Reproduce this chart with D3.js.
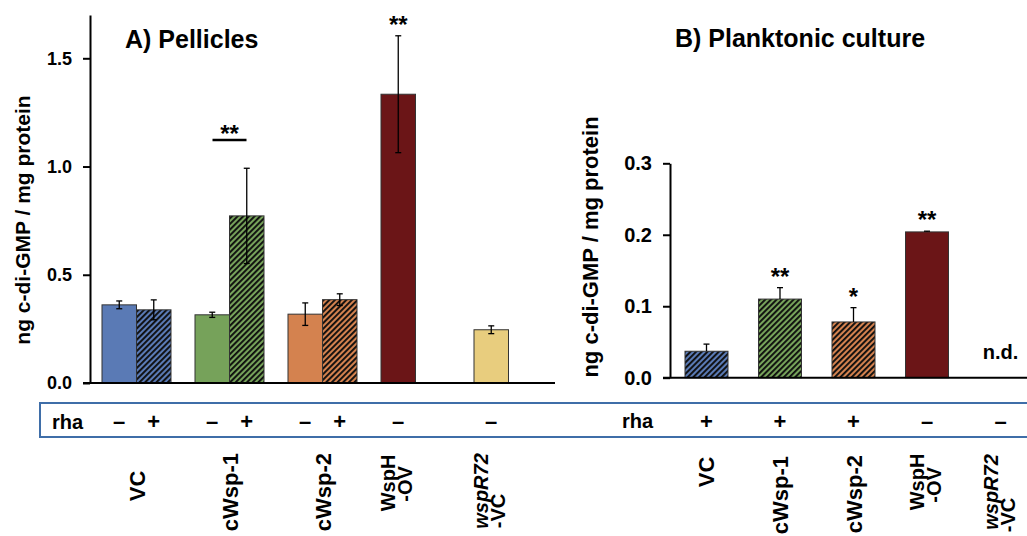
<!DOCTYPE html>
<html>
<head>
<meta charset="utf-8">
<script src="https://cdn.jsdelivr.net/npm/d3@7"></script>
<style>
  body { margin: 0; background: #fff; }
  text { font-family: "Liberation Sans", Arial, sans-serif; font-weight: bold; fill: #000; }
</style>
</head>
<body>
<div id="chart"></div>
<script>
// strains, same order in both panels
var groups = ["VC", "cWsp-1", "cWsp-2", "WspH-OV", "wspR72-VC"];
var groupLines = [["VC"], ["cWsp-1"], ["cWsp-2"], ["WspH", "-OV"], ["wspR72", "-VC"]];
var colors = ["#5a7ab5", "#76a25a", "#d4824f", "#6b1517", "#e8cd7e"];

// A) Pellicles (ng c-di-GMP / mg protein), without and with rhamnose
var pelMinus    = [0.361, 0.315, 0.318, 1.334, 0.246];
var pelMinusErr = [0.018, 0.012, 0.052, 0.270, 0.018];
var pelPlus     = [0.338, 0.772, 0.385, null, null];
var pelPlusErr  = [0.046, 0.220, 0.027, null, null];
var pelStars    = ["", "", "", "**", ""];
var pelBracket  = ["", "**", "", "", ""];
var pelTicks    = [0, 0.5, 1.0, 1.5];

// B) Planktonic culture
var plaValues = [0.037, 0.110, 0.078, 0.204, null];
var plaErr    = [0.010, 0.016, 0.020, 0.001, null];
var plaRha    = ["+", "+", "+", "–", "–"];
var plaStars  = ["", "**", "*", "**", ""];
var plaTicks  = [0, 0.1, 0.2, 0.3];

// y centres of the rotated strain labels (per line)
var labelY = {
  A: [[486], [492], [492], [483, 484], [491, 511]],
  B: [[472], [495], [494], [482, 485], [492, 515]]
};

var svg = d3.select("#chart").append("svg")
    .attr("width", 1027)
    .attr("height", 536);

var defs = svg.append("defs");
colors.forEach(function(c, i) {
  var p = defs.append("pattern")
      .attr("id", "hatch" + i)
      .attr("patternUnits", "userSpaceOnUse")
      .attr("width", 4)
      .attr("height", 4)
      .attr("patternTransform", "rotate(45)");
  p.append("rect").attr("width", 4).attr("height", 4).attr("fill", c);
  p.append("rect").attr("width", 1.9).attr("height", 4).attr("fill", "#0d0d0d");
});

var fmt = d3.format(".1f");

function drawAxis(y, ticks, xPos, fontSize) {
  var ax = svg.append("g")
      .attr("transform", "translate(" + xPos + ",0)")
      .call(d3.axisLeft(y).tickValues(ticks).tickFormat(fmt).tickSize(7).tickSizeOuter(0).tickPadding(11));
  ax.select(".domain").attr("stroke", "#000").attr("stroke-width", 2);
  ax.selectAll(".tick line").attr("stroke", "#000").attr("stroke-width", 2);
  ax.selectAll(".tick text")
      .style("font-size", fontSize + "px")
      .style("font-family", "'Liberation Sans', Arial, sans-serif")
      .style("font-weight", "bold")
      .attr("fill", "#000");
}

function errBar(x, y, v, e, both) {
  var g = svg.append("g").attr("stroke", "#000").attr("stroke-width", 1.3);
  var top = y(v + e), bot = both ? y(v - e) : y(v);
  g.append("line").attr("x1", x).attr("x2", x).attr("y1", top).attr("y2", bot);
  g.append("line").attr("x1", x - 3).attr("x2", x + 3).attr("y1", top).attr("y2", top);
  if (both) g.append("line").attr("x1", x - 3).attr("x2", x + 3).attr("y1", bot).attr("y2", bot);
}

function stars(x, yTop, s) {
  // asterisks sit high in the em box, so shift baseline down
  svg.append("text")
      .attr("x", x)
      .attr("y", yTop - 17 + 0.585 * 24)
      .attr("text-anchor", "middle")
      .style("font-size", "24px")
      .text(s);
}

function strainLabels(centers, ys) {
  groupLines.forEach(function(lines, i) {
    var two = lines.length > 1;
    lines.forEach(function(line, li) {
      var xb = centers[i] + (two ? -3 + li * 17 : 8);
      svg.append("text")
          .attr("transform", "translate(" + xb + "," + ys[i][li] + ") rotate(-90)")
          .attr("text-anchor", "middle")
          .style("font-size", two ? "20px" : "22px")
          .style("font-style", line == "wspR72" ? "italic" : "normal")
          .text(line);
    });
  });
}

// ---------- A) Pellicles ----------
var xA = d3.scaleBand().domain(groups).range([90, 555]).paddingInner(0.258).paddingOuter(0.129);
var xA1 = d3.scaleBand().domain(["–", "+"]).range([0, xA.bandwidth()]);
var yA = d3.scaleLinear().domain([0, 1.7]).range([383, 15]);

var pelBars = [];
groups.forEach(function(g, i) {
  if (pelMinus[i] != null) pelBars.push({g: g, i: i, c: "–", v: pelMinus[i], e: pelMinusErr[i]});
  if (pelPlus[i] != null) pelBars.push({g: g, i: i, c: "+", v: pelPlus[i], e: pelPlusErr[i]});
});

svg.append("g").selectAll("rect")
  .data(pelBars)
  .enter().append("rect")
    .attr("x", function(d) { return xA(d.g) + xA1(d.c); })
    .attr("y", function(d) { return yA(d.v); })
    .attr("width", xA1.bandwidth())
    .attr("height", function(d) { return yA(0) - yA(d.v); })
    .attr("fill", function(d) { return d.c == "+" ? "url(#hatch" + d.i + ")" : colors[d.i]; })
    .attr("stroke", "#333")
    .attr("stroke-width", 1);

pelBars.forEach(function(d) {
  errBar(xA(d.g) + xA1(d.c) + xA1.bandwidth() / 2, yA, d.v, d.e, true);
});

drawAxis(yA, pelTicks, 90, 18);
svg.append("line").attr("x1", 83).attr("x2", 555).attr("y1", yA(0)).attr("y2", yA(0))
    .attr("stroke", "#000").attr("stroke-width", 2);

groups.forEach(function(g, i) {
  if (pelStars[i]) {
    stars(xA(g) + xA1.bandwidth() / 2, yA(pelMinus[i] + pelMinusErr[i]), pelStars[i]);
  }
  if (pelBracket[i]) {
    var cx = xA(g) + xA.bandwidth() / 2, by = 140;
    svg.append("line").attr("x1", cx - 17).attr("x2", cx + 17).attr("y1", by).attr("y2", by)
        .attr("stroke", "#000").attr("stroke-width", 2.5);
    stars(cx, by + 5, pelBracket[i]);
  }
});

svg.append("text").attr("x", 125).attr("y", 48).style("font-size", "25px").text("A) Pellicles");
svg.append("text")
    .attr("transform", "translate(30,220) rotate(-90)")
    .attr("text-anchor", "middle")
    .style("font-size", "21px")
    .text("ng c-di-GMP / mg protein");

// centre of the bars present in each group
var pelCenters = groups.map(function(g, i) {
  return pelPlus[i] != null ? xA(g) + xA.bandwidth() / 2 : xA(g) + xA1.bandwidth() / 2;
});

// ---------- B) Planktonic culture ----------
var xB = d3.scaleBand().domain(groups).range([670, 1037]).paddingInner(0.415).paddingOuter(0.204);
var yB = d3.scaleLinear().domain([0, 0.3]).range([377.7, 163.3]);

var plaBars = groups.map(function(g, i) {
  return {g: g, i: i, v: plaValues[i], e: plaErr[i], rha: plaRha[i]};
});

svg.append("g").selectAll("rect")
  .data(plaBars.filter(function(d) { return d.v != null; }))
  .enter().append("rect")
    .attr("x", function(d) { return xB(d.g); })
    .attr("y", function(d) { return yB(d.v); })
    .attr("width", xB.bandwidth())
    .attr("height", function(d) { return yB(0) - yB(d.v); })
    .attr("fill", function(d) { return d.rha == "+" ? "url(#hatch" + d.i + ")" : colors[d.i]; })
    .attr("stroke", "#333")
    .attr("stroke-width", 1);

plaBars.forEach(function(d) {
  var cx = xB(d.g) + xB.bandwidth() / 2;
  if (d.v == null) {
    svg.append("text").attr("x", cx).attr("y", yB(0) - 19)
        .attr("text-anchor", "middle").style("font-size", "20px").text("n.d.");
    return;
  }
  errBar(cx, yB, d.v, d.e, false);
  if (plaStars[d.i]) stars(cx, yB(d.v + d.e), plaStars[d.i]);
});

drawAxis(yB, plaTicks, 670, 20);
svg.append("line").attr("x1", 663).attr("x2", 1027).attr("y1", yB(0)).attr("y2", yB(0))
    .attr("stroke", "#000").attr("stroke-width", 2);

svg.append("text").attr("x", 675).attr("y", 47).style("font-size", "25px").text("B) Planktonic culture");
svg.append("text")
    .attr("transform", "translate(598,247) rotate(-90)")
    .attr("text-anchor", "middle")
    .style("font-size", "22px")
    .text("ng c-di-GMP / mg protein");

var plaCenters = groups.map(function(g) { return xB(g) + xB.bandwidth() / 2; });

// ---------- rhamnose row ----------
svg.append("rect")
    .attr("x", 40).attr("y", 403).attr("width", 1000).attr("height", 34)
    .attr("fill", "none").attr("stroke", "#3f6ea8").attr("stroke-width", 2);

svg.append("text").attr("x", 52).attr("y", 429).style("font-size", "20px").text("rha");
svg.append("text").attr("x", 653).attr("y", 428).attr("text-anchor", "end").style("font-size", "20px").text("rha");

pelBars.forEach(function(d) {
  svg.append("text")
      .attr("x", xA(d.g) + xA1(d.c) + xA1.bandwidth() / 2)
      .attr("y", 429)
      .attr("text-anchor", "middle")
      .style("font-size", "22px")
      .text(d.c);
});
plaBars.forEach(function(d, i) {
  svg.append("text")
      .attr("x", plaCenters[i])
      .attr("y", 429)
      .attr("text-anchor", "middle")
      .style("font-size", "22px")
      .text(d.rha);
});

strainLabels(pelCenters, labelY.A);
strainLabels(plaCenters, labelY.B);
</script>
</body>
</html>
